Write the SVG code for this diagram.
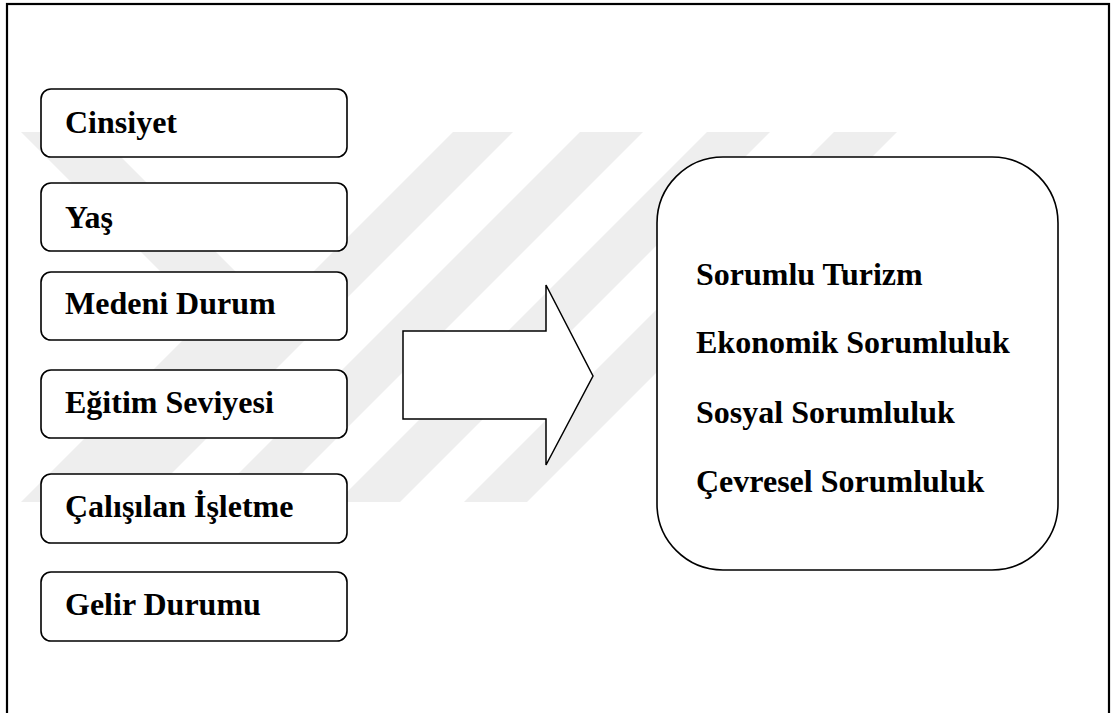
<svg xmlns="http://www.w3.org/2000/svg" width="1114" height="713" viewBox="0 0 1114 713">
<style>
.wm{fill:#eeeeee;stroke:none}
.box{fill:#ffffff;stroke:#000000;stroke-width:1.6}
.lbl{font-family:"Liberation Serif","Times New Roman",serif;font-weight:bold;font-size:32px;fill:#000000}
</style>
<rect x="0" y="0" width="1114" height="713" fill="#ffffff"/>
<g id="watermark">
<polygon class="wm" points="21,132 96,132 281,317 96,502 21,502 206,317"/>
<polygon class="wm" points="453,132 513,132 143,502 83,502"/>
<polygon class="wm" points="580,132 643,132 273,502 210,502"/>
<polygon class="wm" points="707,132 770,132 400,502 337,502"/>
<polygon class="wm" points="834,132 897,132 527,502 464,502"/>
</g>
<rect id="frame" x="7" y="4" width="1102" height="720" fill="none" stroke="#000000" stroke-width="2.2"/>
<g id="connectors">
<polygon id="arrow" points="403,331 546,331 546,285 593,376 546,465 546,419 403,419" fill="#ffffff" stroke="#000000" stroke-width="1.5"/>
</g>
<g id="n-cinsiyet"><rect class="box" x="41" y="89" width="306" height="68" rx="10"/><text class="lbl" x="65" y="133">Cinsiyet</text></g>
<g id="n-yas"><rect class="box" x="41" y="183" width="306" height="68" rx="10"/><text class="lbl" x="65" y="228">Yaş</text></g>
<g id="n-medeni"><rect class="box" x="41" y="272" width="306" height="68" rx="10"/><text class="lbl" x="65" y="314">Medeni Durum</text></g>
<g id="n-egitim"><rect class="box" x="41" y="370" width="306" height="68" rx="10"/><text class="lbl" x="65" y="413">Eğitim Seviyesi</text></g>
<g id="n-calisilan"><rect class="box" x="41" y="474" width="306" height="69" rx="10"/><text class="lbl" x="65" y="517">Çalışılan İşletme</text></g>
<g id="n-gelir"><rect class="box" x="41" y="572" width="306" height="69" rx="10"/><text class="lbl" x="65" y="615">Gelir Durumu</text></g>
<g id="n-sorumluluk">
<rect class="box" x="657" y="157" width="401" height="413" rx="66"/>
<text class="lbl" x="696" y="285">Sorumlu Turizm</text>
<text class="lbl" x="696" y="353">Ekonomik Sorumluluk</text>
<text class="lbl" x="696" y="423">Sosyal Sorumluluk</text>
<text class="lbl" x="696" y="492">Çevresel Sorumluluk</text>
</g>
</svg>
